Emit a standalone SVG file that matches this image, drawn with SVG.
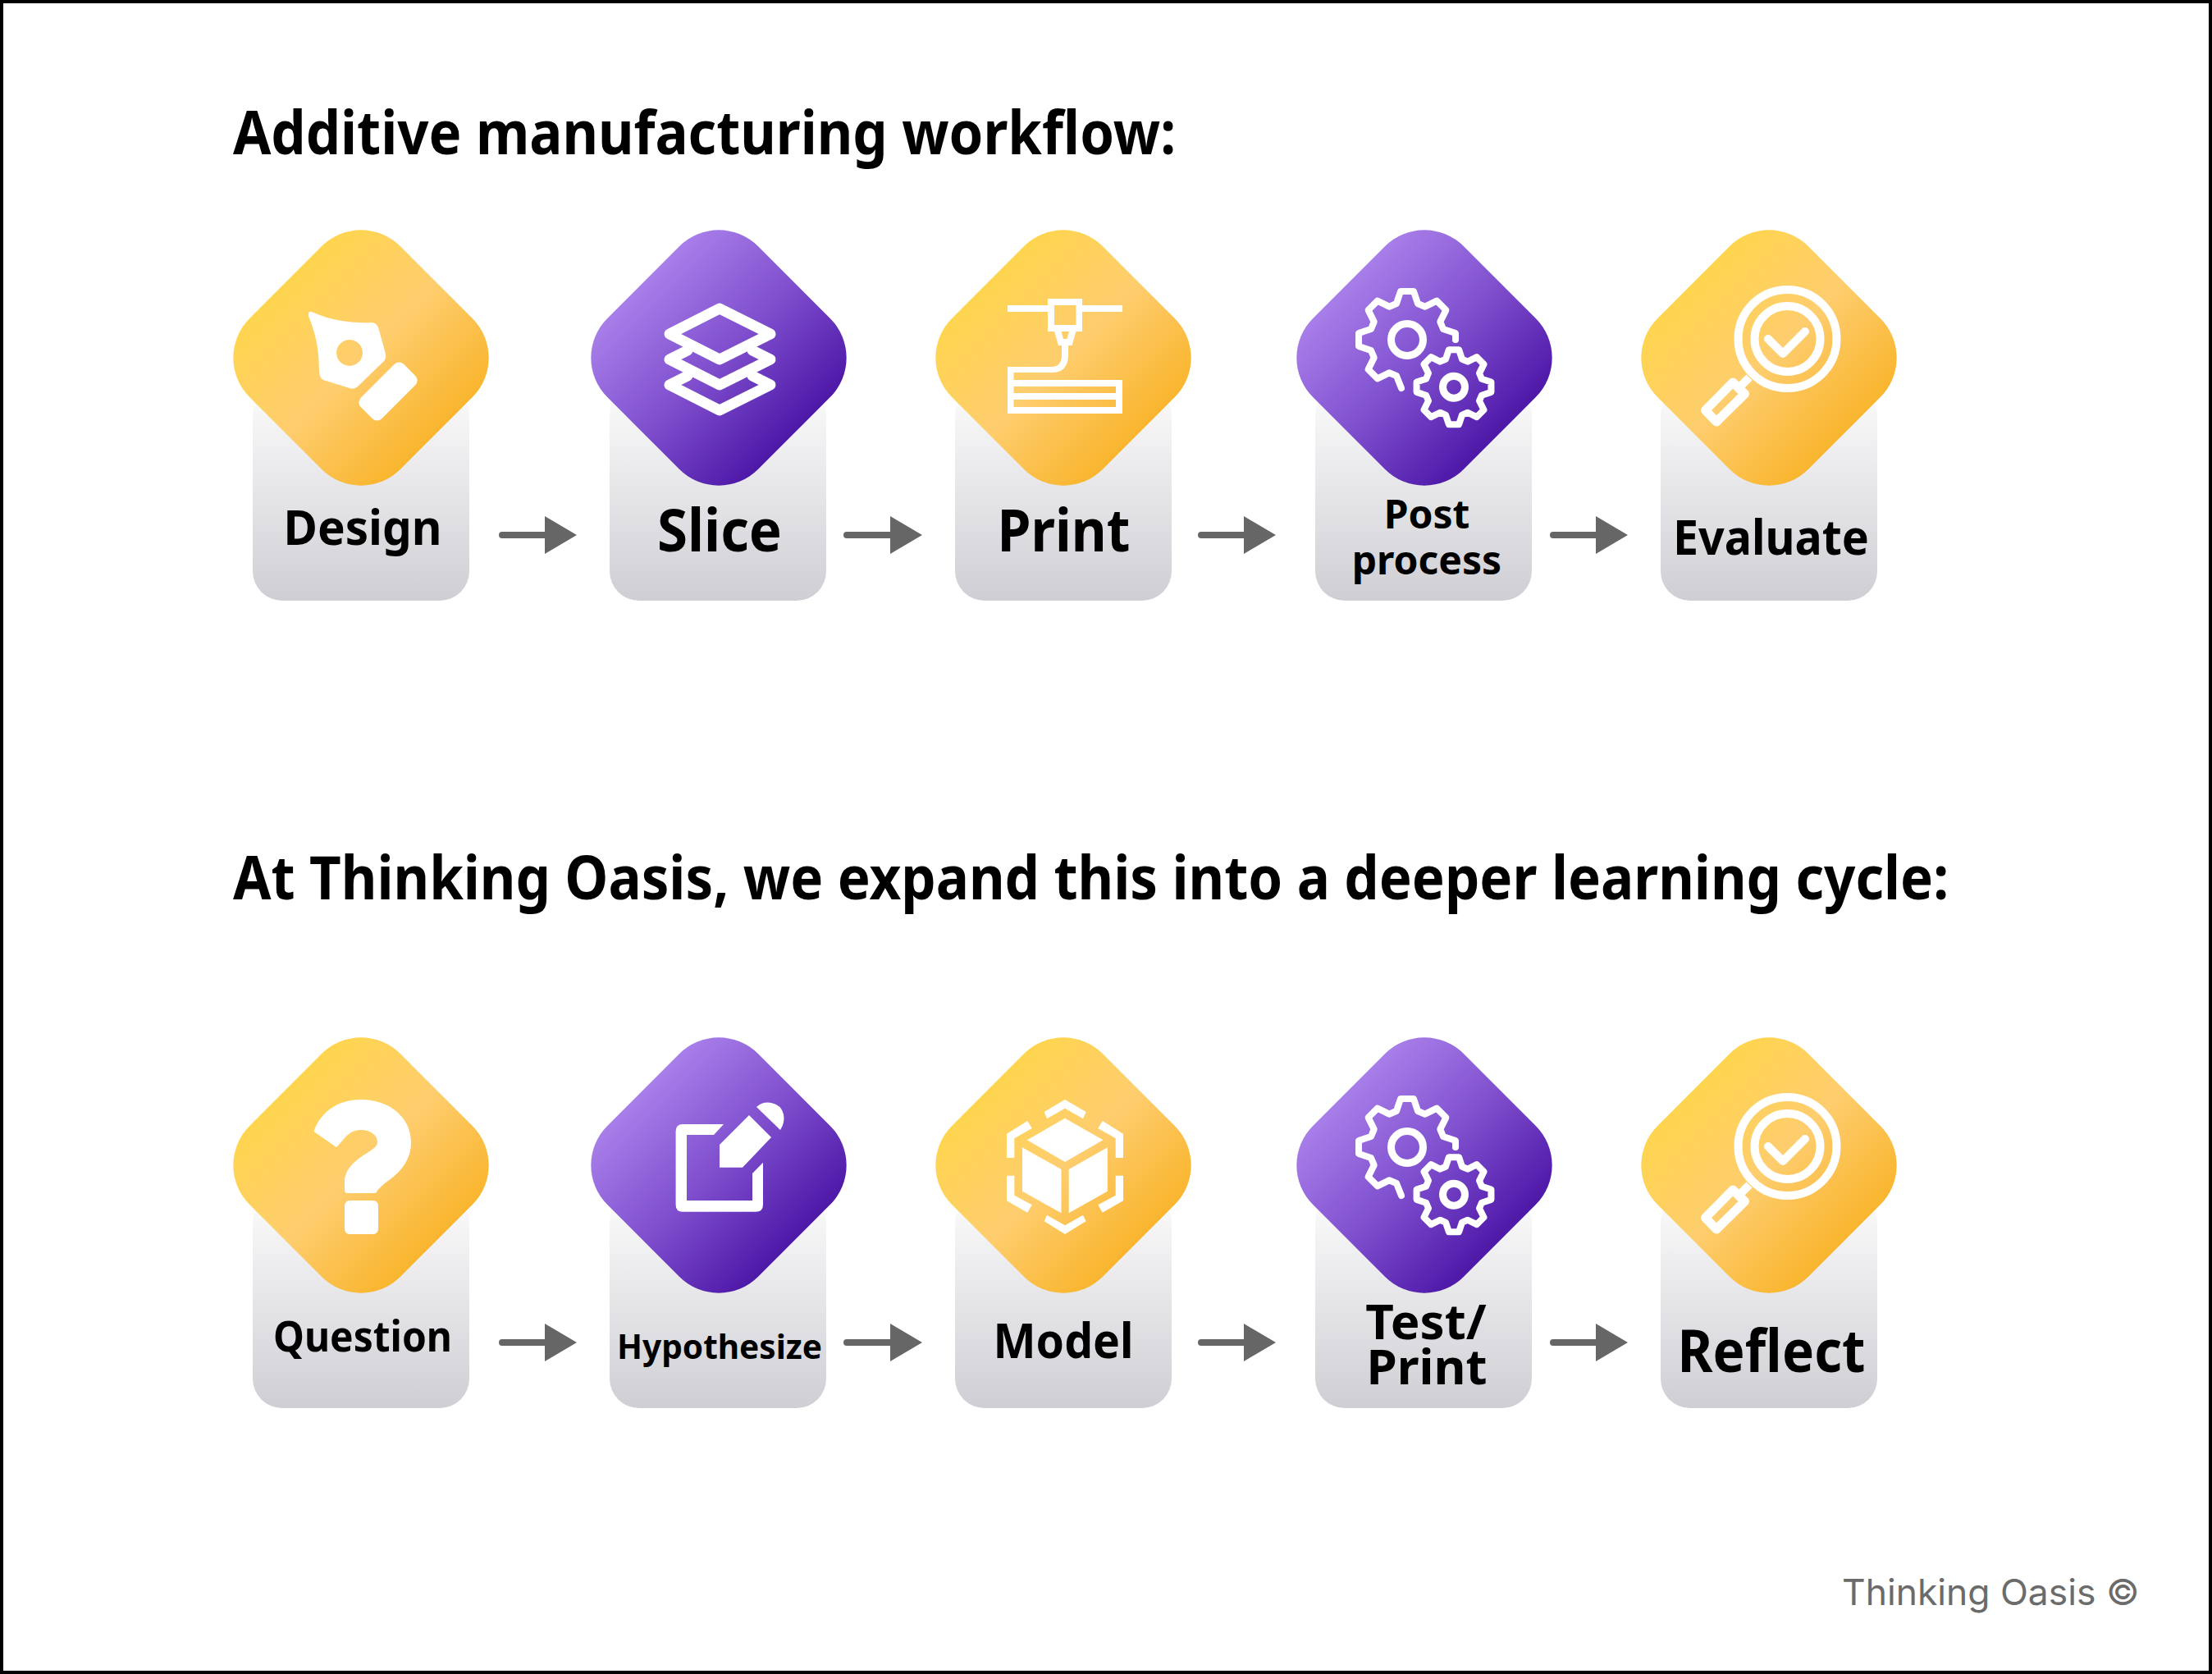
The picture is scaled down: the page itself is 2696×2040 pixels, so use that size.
<svg xmlns="http://www.w3.org/2000/svg" width="2696" height="2040" viewBox="0 0 2696 2040">
<style>
.t{font-family:"Noto Sans","Liberation Sans",sans-serif;font-weight:700;fill:#000}
.l{text-anchor:middle}
.ic{fill:#fff}
.ln{fill:none;stroke:#fff;stroke-linejoin:round;stroke-linecap:round}
.arr{stroke:#666;stroke-width:8;stroke-linecap:round;fill:none}
.ah{fill:#666}
</style>
<defs>
<linearGradient id="y"><stop offset="0" stop-color="#ffd54f"/><stop offset=".5" stop-color="#fecd6e"/><stop offset="1" stop-color="#f9b52e"/></linearGradient>
<linearGradient id="p"><stop offset="0" stop-color="#a87ee9"/><stop offset=".5" stop-color="#7f4fce"/><stop offset="1" stop-color="#4e18a8"/></linearGradient>
<linearGradient id="c" x1="0" y1="0" x2="0" y2="1"><stop offset="0" stop-color="#fcfcfc"/><stop offset="1" stop-color="#cfced4"/></linearGradient>
<rect id="card" x="-132" y="-262" width="264" height="262" rx="36" fill="url(#c)"/>
<rect id="dy" x="-130" y="-130" width="260" height="260" rx="68" fill="url(#y)" transform="rotate(45)"/>
<rect id="dp" x="-130" y="-130" width="260" height="260" rx="68" fill="url(#p)" transform="rotate(45)"/>
<g id="gears">
<path class="ln" stroke-width="8" d="M-7 59L-13 44L-21.900 40.300L-36.100 47.400L-47.400 36.100L-40.300 21.900L-44 13L-59 8L-59 -8L-44 -13L-40.300 -21.900L-47.400 -36.100L-36.100 -47.400L-21.900 -40.300L-13 -44L-8 -59L8 -59L13 -44L21.900 -40.300L36.100 -47.400L47.400 -36.100L40.300 -21.900L44 -13L59 -8L59 0"/>
<circle class="ln" r="19.500" stroke-width="9"/>
<g transform="translate(57 57.700)">
<path class="ln" stroke-width="10.400" transform="scale(.77)" d="M-13 -44L-8 -59L8 -59L13 -44L21.900 -40.300L36.100 -47.400L47.400 -36.100L40.300 -21.900L44 -13L59 -8L59 8L44 13L40.300 21.900L47.400 36.100L36.100 47.400L21.900 40.300L13 44L8 59L-8 59L-13 44L-21.900 40.300L-36.100 47.400L-47.400 36.100L-40.300 21.900L-44 13L-59 8L-59 -8L-44 -13L-40.300 -21.900L-47.400 -36.100L-36.100 -47.400L-21.900 -40.300Z"/>
<circle class="ln" r="13.500" stroke-width="9"/>
</g>
</g>
<g id="mag">
<circle class="ln" cx="22.500" cy="-23" r="60" stroke-width="10"/>
<circle class="ln" cx="22.500" cy="-23" r="40" stroke-width="10"/>
<path class="ln" stroke-width="10" d="M-1 -23L17 -5L44 -32"/>
<path class="ln" stroke-width="11" d="M-44 30L-29.500 44L-64 78L-77.500 64Z"/>
<path class="ln" stroke-width="10" style="stroke-linecap:butt" d="M-24 24L-37 37"/>
</g>
</defs>
<rect x="2" y="2" width="2692" height="2036" fill="#fff" stroke="#000" stroke-width="4"/>
<text class="t" x="284" y="188" font-size="73" textLength="1149" lengthAdjust="spacingAndGlyphs">Additive manufacturing workflow:</text>
<text class="t" x="284" y="1096" font-size="73" textLength="2091" lengthAdjust="spacingAndGlyphs">At Thinking Oasis, we expand this into a deeper learning cycle:</text>

<g id="connectors">
<path class="arr" d="M612 652H670M1032 652H1090M1464 652H1522M1893 652H1951M612 1636H670M1032 1636H1090M1464 1636H1522M1893 1636H1951"/>
<path class="ah" d="M664 629L703 652L664 675ZM1085 629L1124 652L1085 675ZM1516 629L1555 652L1516 675ZM1945 629L1984 652L1945 675ZM664 1613L703 1636L664 1659ZM1085 1613L1124 1636L1085 1659ZM1516 1613L1555 1636L1516 1659ZM1945 1613L1984 1636L1945 1659Z"/>
</g>

<g id="design"><use href="#card" x="440" y="732"/><use href="#dy" transform="translate(440 436)"/>
<path class="ic" fill-rule="evenodd" d="M380 380C404 391 430 394 452 393Q459 393 461 399L470 431Q471 436 468 440L436 471Q431 475 426 473L394 463Q390 461 389 454C389 425 385 408 376 385Q375 379 380 380ZM426 414a16 16 0 1 0 .1 0Z"/>
<rect class="ic" x="-37" y="-18" width="74" height="36" rx="8" transform="translate(473 477) rotate(-45)"/>
<text class="t l" x="442" y="664" font-size="59" textLength="193" lengthAdjust="spacingAndGlyphs">Design</text></g>

<g id="slice"><use href="#card" x="875" y="732"/><use href="#dp" transform="translate(876 436)"/>
<path class="ln" stroke-width="13" d="M877 376L939 407L877 438L816 407Z"/><path class="ln" stroke-width="13" d="M838 427L816 438L877 469L939 438L917 427"/><path class="ln" stroke-width="13" d="M838 458L816 469L877 500L939 469L917 458"/>
<text class="t l" x="877" y="672" font-size="72" textLength="152" lengthAdjust="spacingAndGlyphs">Slice</text></g>

<g id="print"><use href="#card" x="1296" y="732"/><use href="#dy" transform="translate(1296 436)"/>
<path class="ic" fill-rule="evenodd" d="M1228 372H1277V364H1319V372H1368V380H1319V404H1311.500L1306.500 421H1302V432Q1302 454 1282 454H1235.500V463H1368V504H1228V447H1282Q1294 447 1294 432V421H1290L1285 404H1277V380H1228ZM1285 372V396H1311.500V372ZM1293.500 404L1296 413H1300.500L1303 404ZM1235.500 471V479H1360V471ZM1235.500 487V496H1360V487Z"/>
<text class="t l" x="1296.500" y="672" font-size="71" textLength="162" lengthAdjust="spacingAndGlyphs">Print</text></g>

<g id="post"><use href="#card" x="1735" y="732"/><use href="#dp" transform="translate(1736 436)"/>
<use href="#gears" transform="translate(1715 414)"/>
<text class="t l" x="1739" y="644" font-size="48">Post</text><text class="t l" x="1739" y="700" font-size="48">process</text></g>

<g id="evaluate"><use href="#card" x="2156" y="732"/><use href="#dy" transform="translate(2156 436)"/>
<use href="#mag" transform="translate(2156 436)"/>
<text class="t l" x="2158.500" y="676" font-size="59" textLength="239" lengthAdjust="spacingAndGlyphs">Evaluate</text></g>

<g id="question"><use href="#card" x="440" y="1716"/><use href="#dy" transform="translate(440 1420)"/>
<path class="ic" d="M383 1377C393 1352 415 1340 440 1340C475 1340 501 1362 501 1392C501 1412 490 1426 477 1436C466 1444 460 1450 459.500 1452Q459 1454 456 1454H423Q420 1454 420 1450V1440C420 1425 433 1414 446 1406C455 1400 460 1397 460 1392C460 1383 451 1377 440 1377C431 1377 425 1381 420 1387L412 1396Q410 1399 407 1396L384 1380Q382 1379 383 1377Z"/>
<rect class="ic" x="420" y="1463" width="41" height="41" rx="6"/>
<text class="t l" x="442" y="1647" font-size="52" textLength="218" lengthAdjust="spacingAndGlyphs">Question</text></g>

<g id="hypothesize"><use href="#card" x="875" y="1716"/><use href="#dp" transform="translate(876 1420)"/>
<path class="ic" d="M882 1370H832Q823.600 1370 823.600 1379V1468Q823.600 1476.700 832 1476.700H921Q930 1476.700 930 1468V1416.700L917 1430V1463H837V1383H870ZM913 1359L940 1386L905 1422.700H877V1395ZM922 1349Q930 1342 940 1344Q952 1346 955 1358Q957 1368 951 1377Z"/>
<text class="t l" x="877" y="1656" font-size="42" textLength="250" lengthAdjust="spacingAndGlyphs">Hypothesize</text></g>

<g id="model"><use href="#card" x="1296" y="1716"/><use href="#dy" transform="translate(1296 1420)"/>
<path class="ic" d="M1298 1362.700L1344.400 1389.300L1298 1416L1251.800 1389.300ZM1246 1398.300L1293.500 1425V1478.300L1246 1451.700ZM1349.800 1398.300L1302.700 1425V1478.300L1349.800 1451.700ZM1298 1340L1323.600 1355L1320 1363.300L1298 1350.700L1276 1363.300L1272.700 1355ZM1298 1504L1323.600 1488.300L1320 1480.700L1298 1493.300L1276 1480.700L1272.700 1488.300ZM1252.300 1366L1257.700 1375L1236.300 1387.300V1411H1227V1381.700ZM1343.700 1366L1338.300 1375L1359.700 1387.300V1411H1369V1381.700ZM1227 1432.700H1236.300V1456.700L1257.700 1468.300L1252.300 1477.700L1227 1463.300ZM1369 1432.700H1359.700V1456.700L1338.300 1468.300L1343.700 1477.700L1369 1463.300Z"/>
<text class="t l" x="1296" y="1655" font-size="60" textLength="171" lengthAdjust="spacingAndGlyphs">Model</text></g>

<g id="test"><use href="#card" x="1735" y="1716"/><use href="#dp" transform="translate(1736 1420)"/>
<use href="#gears" transform="translate(1715 1398)"/>
<text class="t l" x="1738" y="1632" font-size="60">Test/</text><text class="t l" x="1739" y="1687" font-size="60">Print</text></g>

<g id="reflect"><use href="#card" x="2156" y="1716"/><use href="#dy" transform="translate(2156 1420)"/>
<use href="#mag" transform="translate(2156 1420)"/>
<text class="t l" x="2159" y="1672" font-size="71" textLength="229" lengthAdjust="spacingAndGlyphs">Reflect</text></g>

<text x="2245" y="1956" font-family="Inter,'Liberation Sans',sans-serif" font-size="44.400" fill="#6b6b6b">Thinking Oasis ©</text>
</svg>
